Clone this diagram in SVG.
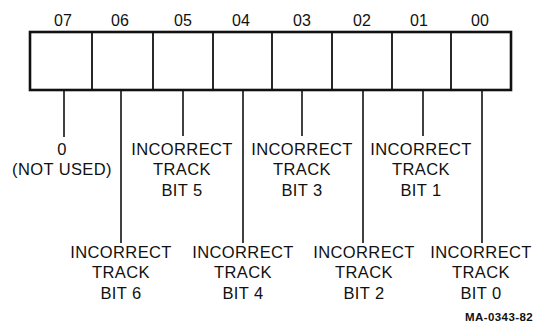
<svg xmlns="http://www.w3.org/2000/svg" width="535" height="327" viewBox="0 0 535 327">
<style>
text{font-family:"Liberation Sans",Arial,sans-serif;fill:#111;text-anchor:middle}
.bn{font-size:16px}
.lb{font-size:16.5px;letter-spacing:0.4px}
.ln{stroke:#111;stroke-width:1.6;fill:none}
.box{stroke:#111;stroke-width:2.6;fill:#fff}
.div{stroke:#111;stroke-width:1.8}
.fig{font-size:11.5px;font-weight:bold;text-anchor:end;letter-spacing:0.4px}
</style>
<g id="register">
<rect class="box" x="30" y="32" width="481" height="58"/>
<line class="div" x1="92" y1="32" x2="92" y2="90"/>
<line class="div" x1="153" y1="32" x2="153" y2="90"/>
<line class="div" x1="213" y1="32" x2="213" y2="90"/>
<line class="div" x1="272" y1="32" x2="272" y2="90"/>
<line class="div" x1="332" y1="32" x2="332" y2="90"/>
<line class="div" x1="392" y1="32" x2="392" y2="90"/>
<line class="div" x1="451" y1="32" x2="451" y2="90"/>
<text class="bn" x="63" y="26">07</text>
<text class="bn" x="120" y="26">06</text>
<text class="bn" x="183" y="26">05</text>
<text class="bn" x="241" y="26">04</text>
<text class="bn" x="302" y="26">03</text>
<text class="bn" x="362" y="26">02</text>
<text class="bn" x="419" y="26">01</text>
<text class="bn" x="480" y="26">00</text>
</g>
<g id="connectors">
<line class="ln" x1="64" y1="90" x2="64" y2="137"/>
<line class="ln" x1="121" y1="90" x2="121" y2="243"/>
<line class="ln" x1="183" y1="90" x2="183" y2="136"/>
<line class="ln" x1="243" y1="90" x2="243" y2="243"/>
<line class="ln" x1="302" y1="90" x2="302" y2="136"/>
<line class="ln" x1="363" y1="90" x2="363" y2="243"/>
<line class="ln" x1="423" y1="90" x2="423" y2="136"/>
<line class="ln" x1="482" y1="90" x2="482" y2="243"/>
</g>
<g id="bit7">
<text class="lb" x="62" y="155">0</text>
<text class="lb" x="62" y="175">(NOT USED)</text>
</g>
<g id="bit6">
<text class="lb" x="121" y="258">INCORRECT</text>
<text class="lb" x="121" y="278">TRACK</text>
<text class="lb" x="121" y="299">BIT 6</text>
</g>
<g id="bit5">
<text class="lb" x="182" y="155">INCORRECT</text>
<text class="lb" x="182" y="175">TRACK</text>
<text class="lb" x="182" y="196">BIT 5</text>
</g>
<g id="bit4">
<text class="lb" x="243" y="258">INCORRECT</text>
<text class="lb" x="243" y="278">TRACK</text>
<text class="lb" x="243" y="299">BIT 4</text>
</g>
<g id="bit3">
<text class="lb" x="302" y="155">INCORRECT</text>
<text class="lb" x="302" y="175">TRACK</text>
<text class="lb" x="302" y="196">BIT 3</text>
</g>
<g id="bit2">
<text class="lb" x="364" y="258">INCORRECT</text>
<text class="lb" x="364" y="278">TRACK</text>
<text class="lb" x="364" y="299">BIT 2</text>
</g>
<g id="bit1">
<text class="lb" x="421" y="155">INCORRECT</text>
<text class="lb" x="421" y="175">TRACK</text>
<text class="lb" x="421" y="196">BIT 1</text>
</g>
<g id="bit0">
<text class="lb" x="481" y="258">INCORRECT</text>
<text class="lb" x="481" y="278">TRACK</text>
<text class="lb" x="481" y="299">BIT 0</text>
</g>
<text class="fig" x="533" y="321">MA-0343-82</text>
</svg>
